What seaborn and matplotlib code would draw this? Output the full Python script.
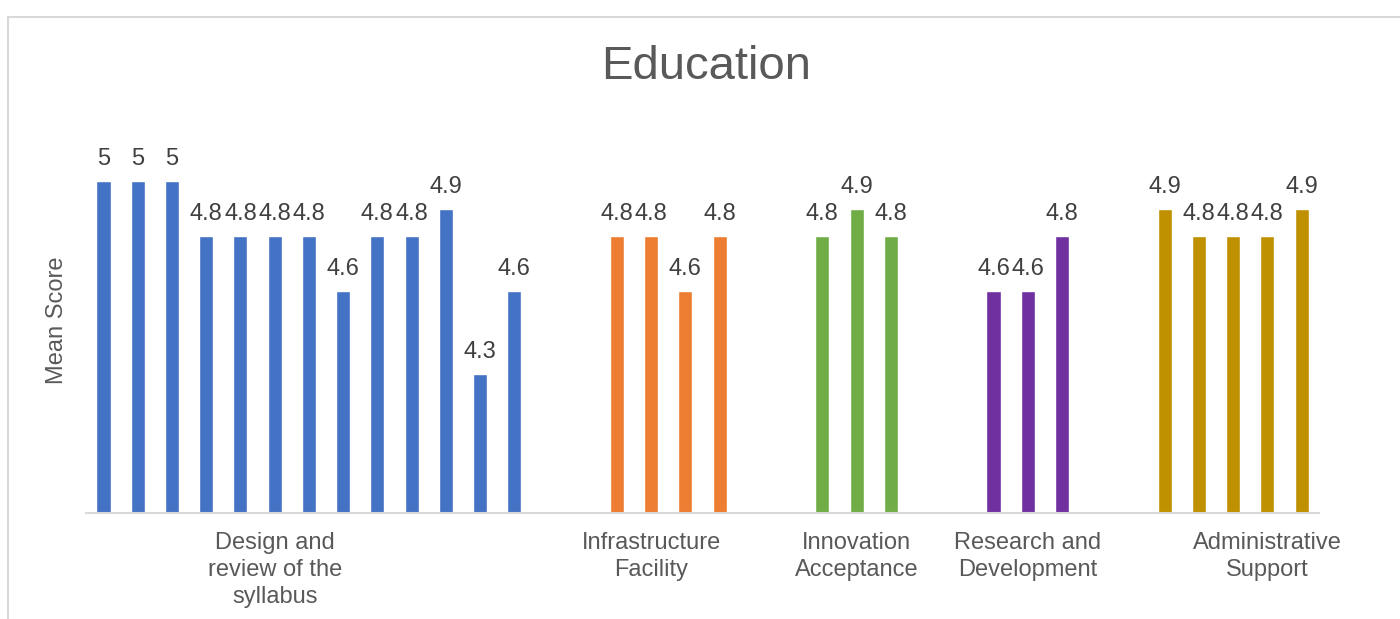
import pandas as pd
import matplotlib
matplotlib.use("Agg")
import matplotlib.pyplot as plt
import matplotlib.patches as patches
import seaborn as sns

# Mean scores per criterion
design_scores = [5, 5, 5, 4.8, 4.8, 4.8, 4.8, 4.6, 4.8, 4.8, 4.9, 4.3, 4.6]
infra_scores = [4.8, 4.8, 4.6, 4.8]
innovation_scores = [4.8, 4.9, 4.8]
research_scores = [4.6, 4.6, 4.8]
admin_scores = [4.9, 4.8, 4.8, 4.8, 4.9]

groups = ["Design and\nreview of the\nsyllabus", "Infrastructure\nFacility",
          "Innovation\nAcceptance", "Research and\nDevelopment",
          "Administrative\nSupport"]
colors = ["#4472C4", "#ED7D31", "#70AD47", "#7030A0", "#BF9000"]
# slot (category index) where each group's label sits
label_slots = [5, 16, 22, 27, 34]
gap = 2  # empty categories between groups

sns.set_theme(style="white")
plt.rcParams["font.family"] = ["Liberation Sans", "DejaVu Sans"]

# Build a long table; empty slots between groups stay as unused categories
rows = []
slot = 0
all_scores = [design_scores, infra_scores, innovation_scores, research_scores, admin_scores]
for g, scores in zip(groups, all_scores):
    for s in scores:
        rows.append({"slot": f"s{slot}", "score": s, "group": g})
        slot += 1
    slot += gap
n_slots = slot - gap
df = pd.DataFrame(rows)
order = [f"s{i}" for i in range(n_slots)]

fig = plt.figure(figsize=(14, 6.19), dpi=100)
ax = fig.add_axes([86.4 / 1400, 106.3 / 619, 1232.3 / 1400, 385 / 619])

sns.barplot(data=df, x="slot", y="score", hue="group", order=order,
            hue_order=groups, palette=dict(zip(groups, colors)),
            dodge=False, width=0.41, legend=False, ax=ax, saturation=1)

for c in ax.containers:
    ax.bar_label(c, fmt="%g", padding=8, fontsize=17, color="#404040")

ax.set_ylim(3.795, 5.195)
ax.set_xlim(-0.5, n_slots - 0.5)
ax.set_yticks([])
ax.set_xticks(label_slots)
ax.set_xticklabels(groups, fontsize=17, color="#595959", linespacing=1.3)
ax.tick_params(axis="x", length=0, pad=14)
ax.set_xlabel("")
ax.set_ylabel("Mean Score", fontsize=17, color="#595959", labelpad=13)

for side in ["top", "right", "left"]:
    ax.spines[side].set_visible(False)
ax.spines["bottom"].set_color("#D9D9D9")
ax.spines["bottom"].set_linewidth(1.5)

fig.text(706 / 1400, 1 - 67 / 619, "Education", fontsize=34, color="#595959",
         ha="center", va="center")

# chart area border (top and left edges visible)
fig.add_artist(patches.Rectangle((8 / 1400, -0.1), 1.5, 1 - 17 / 619 + 0.1,
                                 transform=fig.transFigure, fill=False,
                                 ec="#D9D9D9", lw=1.5))

fig.savefig("out.png", dpi=100)
